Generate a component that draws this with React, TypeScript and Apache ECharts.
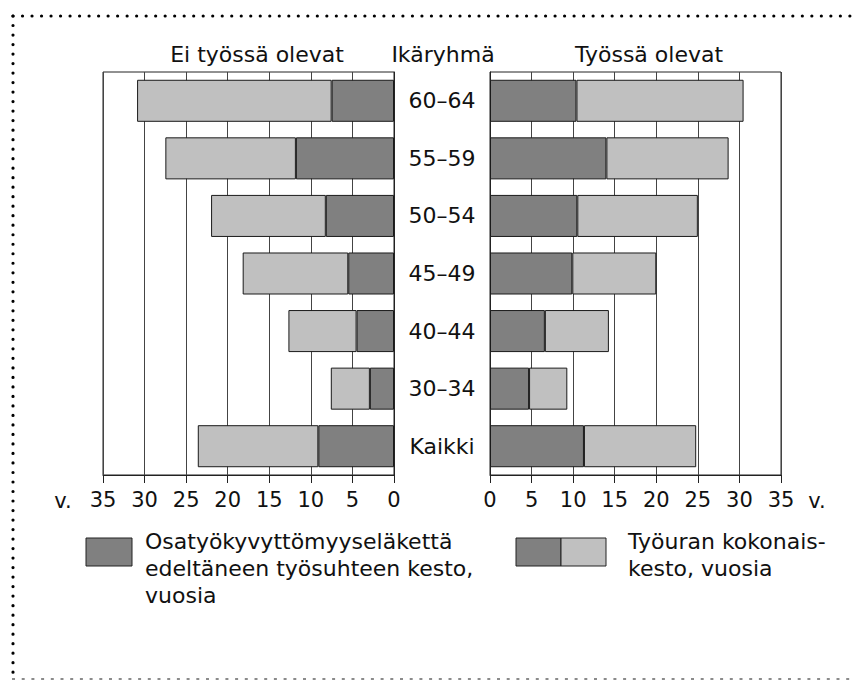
import React, { useEffect, useRef } from "react";
import * as echarts from "echarts";

const categories = ["60–64", "55–59", "50–54", "45–49", "40–44", "30–34", "Kaikki"];
// Ei työssä olevat
const notWorkingJob = [7.5, 11.8, 8.2, 5.5, 4.5, 2.9, 9.1];
const notWorkingTotal = [30.9, 27.5, 22.0, 18.2, 12.7, 7.6, 23.6];
// Työssä olevat
const workingJob = [10.4, 14.0, 10.5, 9.9, 6.6, 4.7, 11.3];
const workingTotal = [30.5, 28.7, 25.0, 20.0, 14.3, 9.3, 24.8];

const FONT = '"DejaVu Sans", sans-serif';
const DARK = "#808080";
const LIGHT = "#c0c0c0";
const INK = "#111";

const rest = (total: number[], part: number[]) =>
  total.map((t, i) => Number((t - part[i]).toFixed(2)));

function txt(x: number, y: number, text: string, align = "left", size = 22) {
  return {
    type: "text",
    x,
    y,
    silent: true,
    style: {
      text,
      font: `${size}px ${FONT}`,
      fill: INK,
      align,
      verticalAlign: "middle",
      textAlign: align,
      textVerticalAlign: "middle",
    },
  };
}

export default function App() {
  const ref = useRef<HTMLDivElement>(null);
  useEffect(() => {
    if (!ref.current) return;
    const chart = echarts.init(ref.current, undefined, { renderer: "svg" });
    const axisCommon = {
      type: "value",
      min: 0,
      max: 35,
      interval: 5,
      axisLine: { show: true, lineStyle: { color: "#222", width: 1 } },
      axisTick: { show: true, length: 8, lineStyle: { color: "#222" } },
      axisLabel: { fontFamily: FONT, fontSize: 21, color: INK, margin: 14 },
      splitLine: { show: true, lineStyle: { color: "#444", width: 1 } },
    };
    const barStyle = (c: string) => ({ color: c, borderColor: "#1a1a1a", borderWidth: 1 });
    chart.setOption({
      animation: false,
      backgroundColor: "#fff",
      grid: [
        { left: 103, top: 72, width: 291, height: 403, show: true, borderColor: "#222", borderWidth: 1 },
        { left: 490, top: 72, width: 291, height: 403, show: true, borderColor: "#222", borderWidth: 1 },
      ],
      xAxis: [
        { ...axisCommon, gridIndex: 0, inverse: true },
        { ...axisCommon, gridIndex: 1 },
      ],
      yAxis: [
        {
          type: "category",
          gridIndex: 0,
          data: categories,
          inverse: true,
          position: "right",
          axisLine: { show: true, lineStyle: { color: "#222" } },
          axisTick: { show: false },
          axisLabel: { show: true, align: "center", margin: 48, fontFamily: FONT, fontSize: 22, color: INK },
          splitLine: { show: false },
        },
        {
          type: "category",
          gridIndex: 1,
          data: categories,
          inverse: true,
          position: "left",
          axisLine: { show: true, lineStyle: { color: "#222" } },
          axisTick: { show: false },
          axisLabel: { show: false },
          splitLine: { show: false },
        },
      ],
      series: [
        {
          type: "bar", xAxisIndex: 0, yAxisIndex: 0, stack: "L",
          data: notWorkingJob, itemStyle: barStyle(DARK), barCategoryGap: "27%",
        },
        {
          type: "bar", xAxisIndex: 0, yAxisIndex: 0, stack: "L",
          data: rest(notWorkingTotal, notWorkingJob), itemStyle: barStyle(LIGHT), barCategoryGap: "27%",
        },
        {
          type: "bar", xAxisIndex: 1, yAxisIndex: 1, stack: "R",
          data: workingJob, itemStyle: barStyle(DARK), barCategoryGap: "27%",
        },
        {
          type: "bar", xAxisIndex: 1, yAxisIndex: 1, stack: "R",
          data: rest(workingTotal, workingJob), itemStyle: barStyle(LIGHT), barCategoryGap: "27%",
        },
      ],
      graphic: [
        // dotted frame
        {
          type: "line", silent: true,
          shape: { x1: 13, y1: 16, x2: 854, y2: 16 },
          style: { stroke: "#000", lineWidth: 3.2, lineDash: [0.01, 9.5], lineCap: "round" },
        },
        {
          type: "line", silent: true,
          shape: { x1: 13, y1: 16, x2: 13, y2: 673 },
          style: { stroke: "#000", lineWidth: 3.2, lineDash: [0.01, 9.5], lineCap: "round" },
        },
        {
          type: "line", silent: true,
          shape: { x1: 12, y1: 679, x2: 854, y2: 679 },
          style: { stroke: "#666", lineWidth: 1.5, lineDash: [3, 6.7] },
        },
        // headings
        txt(257, 54, "Ei työssä olevat", "center"),
        txt(443, 54, "Ikäryhmä", "center"),
        txt(649, 54, "Työssä olevat", "center"),
        // unit labels
        txt(63, 501, "v.", "center", 21),
        txt(817, 501, "v.", "center", 21),
        // legend
        {
          type: "rect", silent: true,
          shape: { x: 86, y: 538, width: 46, height: 28 },
          style: { fill: DARK, stroke: "#222", lineWidth: 1 },
        },
        txt(145, 541, "Osatyökyvyttömyyseläkettä"),
        txt(145, 568, "edeltäneen työsuhteen kesto,"),
        txt(145, 595, "vuosia"),
        {
          type: "rect", silent: true,
          shape: { x: 516, y: 538, width: 45, height: 28 },
          style: { fill: DARK, stroke: "#222", lineWidth: 1 },
        },
        {
          type: "rect", silent: true,
          shape: { x: 561, y: 538, width: 45, height: 28 },
          style: { fill: LIGHT, stroke: "#222", lineWidth: 1 },
        },
        txt(628, 541, "Työuran kokonais-"),
        txt(628, 568, "kesto, vuosia"),
      ],
    });
    return () => chart.dispose();
  }, []);
  return (
    <div
      ref={ref}
      style={{ position: "fixed", left: 0, top: 0, width: 854, height: 680, background: "#fff" }}
    />
  );
}
